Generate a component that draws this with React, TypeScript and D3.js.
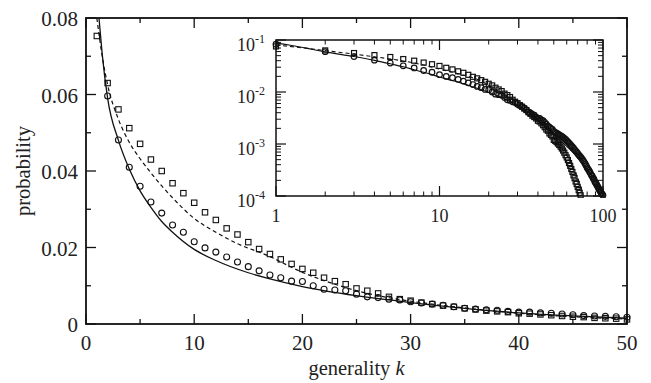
import React from 'react';
import * as d3 from 'd3';

// ---- data ----
const circleVals = [
  0.083, 0.0596, 0.0481, 0.041, 0.036, 0.0319, 0.029, 0.0259, 0.024, 0.0215,
  0.0199, 0.0188, 0.0175, 0.0162, 0.015, 0.0139, 0.0128, 0.0121, 0.0112, 0.0111,
  0.01, 0.0091, 0.0089, 0.0087, 0.0078, 0.0071, 0.0069, 0.0065, 0.0063, 0.0058,
  0.0055, 0.0052, 0.0049, 0.0045, 0.0041, 0.0039, 0.0037, 0.0036, 0.0033, 0.0031,
  0.0031, 0.0029, 0.0028, 0.0026, 0.0024, 0.0022, 0.0021, 0.002, 0.0019, 0.00175,
  0.00168, 0.00162, 0.00156, 0.0015, 0.00145, 0.0014, 0.00134, 0.00128, 0.00122, 0.00116,
  0.0011, 0.00104, 0.00098, 0.00093, 0.00088, 0.00083, 0.00078, 0.00074, 0.0007, 0.00066,
  0.00062, 0.00059, 0.00056, 0.00053, 0.0005, 0.00047, 0.00044, 0.00041, 0.00038, 0.00035,
  0.00033, 0.00031, 0.00029, 0.00027, 0.00025, 0.00024, 0.00022, 0.00021, 0.00019, 0.00018,
  0.00017, 0.00016, 0.00015, 0.00014, 0.000132, 0.000125, 0.000118, 0.000112, 0.000107, 0.000103,
];
const squareVals = [
  0.0753, 0.063, 0.0561, 0.0512, 0.0471, 0.043, 0.04, 0.0368, 0.0342, 0.0317,
  0.0292, 0.0272, 0.025, 0.0234, 0.0214, 0.0196, 0.0183, 0.0169, 0.0157, 0.0144,
  0.0134, 0.0121, 0.0112, 0.0104, 0.0093, 0.0087, 0.008, 0.0071, 0.0065, 0.0061,
  0.0056, 0.0052, 0.0048, 0.0045, 0.0041, 0.0038, 0.0035, 0.0033, 0.0031, 0.0028,
  0.0027, 0.0025, 0.0023, 0.0021, 0.0019, 0.0018, 0.0016, 0.0015, 0.0014, 0.0012,
  0.00115, 0.00109, 0.00102, 0.00096, 0.00089, 0.00082, 0.00075, 0.00068, 0.00061, 0.00055,
  0.00049, 0.00043, 0.00038, 0.00033, 0.00029, 0.00025, 0.00022, 0.00019, 0.00017, 0.00015,
  0.00013, 0.000115, 0.000103,
];
const solidK = [1, 1.2, 1.5, 2, 3, 4, 5, 6, 7, 8, 10, 12, 15, 17, 20, 25, 30, 35, 40, 45, 50, 60, 70, 80, 90, 100];
const solidV = [0.087, 0.08, 0.0705, 0.059, 0.048, 0.0405, 0.0348, 0.0305, 0.0268, 0.024, 0.0195, 0.0166, 0.0134, 0.0118, 0.0098, 0.0074, 0.0056, 0.0041, 0.0029, 0.0021, 0.0015, 0.0009, 0.00055, 0.00033, 0.00019, 0.00011];
const dashedK = [1, 1.5, 2, 3, 4, 5, 6, 7, 8, 10, 12, 14, 16.7, 20, 23, 26, 29, 32, 35, 40, 45, 50, 55, 60, 65, 70, 75];
const dashedV = [0.08, 0.07, 0.0625, 0.0535, 0.0475, 0.0432, 0.0395, 0.0361, 0.033, 0.0276, 0.024, 0.021, 0.018, 0.0135, 0.0104, 0.008, 0.0064, 0.0052, 0.0042, 0.0028, 0.0019, 0.0013, 0.0009, 0.0006, 0.00037, 0.00022, 0.00012];

const xTicks = [0, 10, 20, 30, 40, 50];
const xMinor = [5, 15, 25, 35, 45];
const yTicks = [0, 0.02, 0.04, 0.06, 0.08];
const yTickLabels = ['0', '0.02', '0.04', '0.06', '0.08'];
const yMinor = [0.01, 0.03, 0.05, 0.07];
const insetXTicks = [1, 10, 100];
const insetXLabels = ['1', '10', '100'];
const insetYTicks = [1e-1, 1e-2, 1e-3, 1e-4];
const insetYExp = ['-1', '-2', '-3', '-4'];

const FONT = '"Liberation Serif", "Times New Roman", serif';

export default function App() {
  const W = 651, H = 383;
  const x = d3.scaleLinear().domain([0, 50]).range([86, 627]);
  const y = d3.scaleLinear().domain([0, 0.08]).range([324, 18]);
  const xi = d3.scaleLog().domain([1, 100]).range([276, 603]);
  const yi = d3.scaleLog().domain([1e-4, 1e-1]).range([196, 40]);

  const circles = circleVals.map((v, i) => ({ k: i + 1, v }));
  const squares = squareVals.map((v, i) => ({ k: i + 1, v }));
  const solid = solidK.map((k, i) => ({ k, v: solidV[i] }));
  const dashed = dashedK.map((k, i) => ({ k, v: dashedV[i] }));

  const mainLine = d3.line<{ k: number; v: number }>().x(d => x(d.k)).y(d => y(d.v)).curve(d3.curveMonotoneX);
  const insetLine = d3.line<{ k: number; v: number }>().x(d => xi(d.k)).y(d => yi(d.v)).curve(d3.curveMonotoneX);

  const [x0, x1] = x.range();
  const [y0, y1] = y.range();
  const [ix0, ix1] = xi.range();
  const [iy0, iy1] = yi.range();

  const mainCircles = circles.filter(d => d.k <= 50 && d.v <= 0.08);
  const mainSquares = squares.filter(d => d.k <= 50 && d.v <= 0.08);

  const insetMinorX: number[] = [];
  [1, 10].forEach(dec => { for (let m = 2; m <= 9; m++) insetMinorX.push(dec * m); });
  const insetMinorY: number[] = [];
  [1e-4, 1e-3, 1e-2].forEach(dec => { for (let m = 2; m <= 9; m++) insetMinorY.push(dec * m); });

  const sq = 5.4;
  const sqi = 5;

  return (
    <svg width={W} height={H} style={{ position: 'absolute', left: 0, top: 0, background: '#fff' }} fontFamily={FONT}>
      <defs>
        <clipPath id="mainClip"><rect x={x0} y={y1} width={x1 - x0} height={y0 - y1} /></clipPath>
        <clipPath id="insetClip"><rect x={ix0 - 4} y={iy1 - 4} width={ix1 - ix0 + 8} height={iy0 - iy1 + 6} /></clipPath>
      </defs>
      <rect width={W} height={H} fill="#fff" />

      {/* main plot data */}
      <g clipPath="url(#mainClip)">
        <path d={mainLine(solid.filter(d => d.k <= 52)) || ''} fill="none" stroke="#111" strokeWidth={1.3} />
        <path d={mainLine(dashed.filter(d => d.k <= 52)) || ''} fill="none" stroke="#111" strokeWidth={1.2} strokeDasharray="4,3" />
      </g>
      {mainSquares.map(d => (
        <rect key={'s' + d.k} x={x(d.k) - sq / 2} y={y(d.v) - sq / 2} width={sq} height={sq} fill="none" stroke="#111" strokeWidth={1.1} />
      ))}
      {mainCircles.map(d => (
        <circle key={'c' + d.k} cx={x(d.k)} cy={y(d.v)} r={3} fill="none" stroke="#111" strokeWidth={1.1} />
      ))}

      {/* main frame */}
      <rect x={x0} y={y1} width={x1 - x0} height={y0 - y1} fill="none" stroke="#111" strokeWidth={1.8} />
      {xTicks.map(t => (
        <g key={'xt' + t}>
          <line x1={x(t)} x2={x(t)} y1={y0} y2={y0 - 10} stroke="#111" strokeWidth={1.3} />
          <line x1={x(t)} x2={x(t)} y1={y1} y2={y1 + 10} stroke="#111" strokeWidth={1.3} />
          <text x={x(t)} y={350} fontSize={21} textAnchor="middle" fill="#222">{t}</text>
        </g>
      ))}
      {xMinor.map(t => (
        <g key={'xm' + t}>
          <line x1={x(t)} x2={x(t)} y1={y0} y2={y0 - 5} stroke="#111" strokeWidth={1.3} />
          <line x1={x(t)} x2={x(t)} y1={y1} y2={y1 + 5} stroke="#111" strokeWidth={1.3} />
        </g>
      ))}
      {yTicks.map((t, i) => (
        <g key={'yt' + t}>
          <line x1={x0} x2={x0 + 10} y1={y(t)} y2={y(t)} stroke="#111" strokeWidth={1.3} />
          <line x1={x1} x2={x1 - 10} y1={y(t)} y2={y(t)} stroke="#111" strokeWidth={1.3} />
          <text x={78} y={y(t) + 8} fontSize={21} textAnchor="end" fill="#222">{yTickLabels[i]}</text>
        </g>
      ))}
      {yMinor.map(t => (
        <g key={'ym' + t}>
          <line x1={x0} x2={x0 + 5} y1={y(t)} y2={y(t)} stroke="#111" strokeWidth={1.3} />
          <line x1={x1} x2={x1 - 5} y1={y(t)} y2={y(t)} stroke="#111" strokeWidth={1.3} />
        </g>
      ))}
      <text x={(x0 + x1) / 2} y={375} fontSize={20.5} textAnchor="middle" fill="#222">
        generality <tspan fontStyle="italic">k</tspan>
      </text>
      <text transform={`translate(30,${(y0 + y1) / 2}) rotate(-90)`} fontSize={20.5} textAnchor="middle" fill="#222">probability</text>

      {/* inset */}
      <rect x={ix0} y={iy1} width={ix1 - ix0} height={iy0 - iy1} fill="#fff" />
      <g clipPath="url(#insetClip)">
        <path d={insetLine(solid) || ''} fill="none" stroke="#111" strokeWidth={1.1} />
        <path d={insetLine(dashed) || ''} fill="none" stroke="#111" strokeWidth={1.1} strokeDasharray="4,3" />
        {squares.map(d => (
          <rect key={'is' + d.k} x={xi(d.k) - sqi / 2} y={yi(d.v) - sqi / 2} width={sqi} height={sqi} fill="none" stroke="#111" strokeWidth={1.2} />
        ))}
        {circles.map(d => (
          <circle key={'ic' + d.k} cx={xi(d.k)} cy={yi(d.v)} r={2.8} fill="none" stroke="#111" strokeWidth={1.2} />
        ))}
      </g>
      <rect x={ix0} y={iy1} width={ix1 - ix0} height={iy0 - iy1} fill="none" stroke="#111" strokeWidth={1.5} />
      {insetXTicks.map((t, i) => (
        <g key={'ixt' + t}>
          <line x1={xi(t)} x2={xi(t)} y1={iy0} y2={iy0 - 10} stroke="#111" strokeWidth={1.2} />
          <line x1={xi(t)} x2={xi(t)} y1={iy1} y2={iy1 + 10} stroke="#111" strokeWidth={1.2} />
          <text x={xi(t)} y={222} fontSize={18} textAnchor="middle" fill="#222">{insetXLabels[i]}</text>
        </g>
      ))}
      {insetMinorX.map(t => (
        <g key={'ixm' + t}>
          <line x1={xi(t)} x2={xi(t)} y1={iy0} y2={iy0 - 4.5} stroke="#111" strokeWidth={1} />
          <line x1={xi(t)} x2={xi(t)} y1={iy1} y2={iy1 + 4.5} stroke="#111" strokeWidth={1} />
        </g>
      ))}
      {insetYTicks.map((t, i) => (
        <g key={'iyt' + t}>
          <line x1={ix0} x2={ix0 + 10} y1={yi(t)} y2={yi(t)} stroke="#111" strokeWidth={1.2} />
          <line x1={ix1} x2={ix1 - 10} y1={yi(t)} y2={yi(t)} stroke="#111" strokeWidth={1.2} />
          <text x={265} y={yi(t) + 11} fontSize={18} textAnchor="end" fill="#222">
            10<tspan dy={-8} fontSize={12}>{insetYExp[i]}</tspan>
          </text>
        </g>
      ))}
      {insetMinorY.map(t => (
        <g key={'iym' + t}>
          <line x1={ix0} x2={ix0 + 5} y1={yi(t)} y2={yi(t)} stroke="#111" strokeWidth={1} />
          <line x1={ix1} x2={ix1 - 5} y1={yi(t)} y2={yi(t)} stroke="#111" strokeWidth={1} />
        </g>
      ))}
    </svg>
  );
}
